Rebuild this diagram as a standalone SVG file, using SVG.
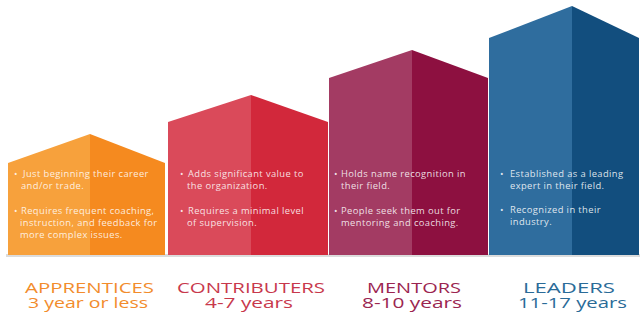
<svg xmlns="http://www.w3.org/2000/svg" width="643" height="321" viewBox="0 0 643 321">
<style>
.body{font-family:"Open Sans","Noto Sans",sans-serif;font-size:9.4px;letter-spacing:0.4px;fill:#ffffff;fill-opacity:0.85}
.title{font-family:"Open Sans","Noto Sans",sans-serif;font-size:15px;font-weight:500}
</style>
<rect width="643" height="321" fill="#ffffff"/>
<rect x="6" y="254" width="634" height="3" fill="#9a9a9a" opacity="0.35"/>
<g id="apprentices">
<polygon points="8,163 90,134 90,255 8,255" fill="#F7A13C"/>
<polygon points="90,134 165,163 165,255 90,255" fill="#F58A1F"/>
<text class="body"><tspan x="14" y="177">•</tspan><tspan x="23" y="177">Just beginning their career</tspan><tspan x="21" y="188.5">and/or trade.</tspan><tspan x="14" y="214">•</tspan><tspan x="21" y="214">Requires frequent coaching,</tspan><tspan x="20" y="226">instruction, and feedback for</tspan><tspan x="20" y="237.5">more complex issues.</tspan></text>
<text class="title" x="25" y="292.5" textLength="129" lengthAdjust="spacingAndGlyphs" fill="#F28C2C">APPRENTICES</text>
<text class="title" x="28" y="307.5" textLength="120" lengthAdjust="spacingAndGlyphs" fill="#F28C2C">3 year or less</text>
</g>
<g id="contributers">
<polygon points="168,122 251,95 251,255 168,255" fill="#DA4A5A"/>
<polygon points="251,95 328,122 328,255 251,255" fill="#D2283B"/>
<text class="body"><tspan x="180" y="177">•</tspan><tspan x="188" y="177">Adds significant value to</tspan><tspan x="187" y="188.5">the organization.</tspan><tspan x="180" y="214">•</tspan><tspan x="188" y="214">Requires a minimal level</tspan><tspan x="187" y="226">of supervision.</tspan></text>
<text class="title" x="177" y="292.5" textLength="148" lengthAdjust="spacingAndGlyphs" fill="#C8384C">CONTRIBUTERS</text>
<text class="title" x="205" y="307.5" textLength="88" lengthAdjust="spacingAndGlyphs" fill="#C8384C">4-7 years</text>
</g>
<g id="mentors">
<polygon points="329,78 412,50 412,255 329,255" fill="#A33B63"/>
<polygon points="412,50 488,78 488,255 412,255" fill="#8D1040"/>
<text class="body"><tspan x="334" y="177">•</tspan><tspan x="341" y="177">Holds name recognition in</tspan><tspan x="341" y="188.5">their field.</tspan><tspan x="334" y="214">•</tspan><tspan x="341" y="214">People seek them out for</tspan><tspan x="341" y="226">mentoring and coaching.</tspan></text>
<text class="title" x="367" y="292.5" textLength="94" lengthAdjust="spacingAndGlyphs" fill="#9B2550">MENTORS</text>
<text class="title" x="362" y="307.5" textLength="100" lengthAdjust="spacingAndGlyphs" fill="#9B2550">8-10 years</text>
</g>
<g id="leaders">
<polygon points="489,38 572,6 572,255 489,255" fill="#2F6D9E"/>
<polygon points="572,6 639,38 639,255 572,255" fill="#124E7E"/>
<text class="body"><tspan x="500" y="177">•</tspan><tspan x="510" y="177">Established as a leading</tspan><tspan x="510" y="188.5">expert in their field.</tspan><tspan x="500" y="213">•</tspan><tspan x="510" y="213">Recognized in their</tspan><tspan x="510" y="225">industry.</tspan></text>
<text class="title" x="523" y="292.5" textLength="92" lengthAdjust="spacingAndGlyphs" fill="#2A6B98">LEADERS</text>
<text class="title" x="518" y="307.5" textLength="109" lengthAdjust="spacingAndGlyphs" fill="#2A6B98">11-17 years</text>
</g>
</svg>
